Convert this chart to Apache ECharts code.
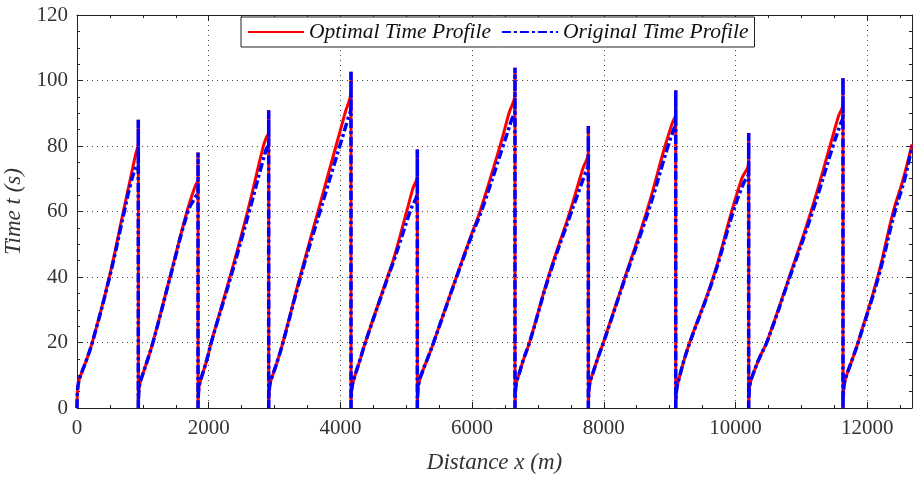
<!DOCTYPE html>
<html style="height: 100%">
<head>
    <meta charset="utf-8">
    <title>Time Profile</title>
</head>
<body style="height: 100%; margin: 0;">
<div id="container" style="width: 913px; height: 477px"></div>
<script src="https://cdn.jsdelivr.net/npm/echarts@6/dist/echarts.min.js"></script>
<script type="text/javascript">

    // station positions (m) and top of the dwell spike (s) at each intermediate station
    var stations = [0, 931, 1838, 2911, 4161, 5168, 6651, 7765, 9092, 10200, 11632, 12680];
    var dwellTop = [88, 78, 90.9, 102.7, 78.9, 103.9, 86.1, 97, 84, 100.8];

    var xTicks = [0, 2000, 4000, 6000, 8000, 10000, 12000];
    var yTicks = [0, 20, 40, 60, 80, 100, 120];

    // optimal profile, one run per inter-station section: [distance, time]
    var optimalRuns = [
        [[0, 0], [6, 4.5], [25, 8], [71, 10.8], [150, 15], [238, 20.5], [491, 40], [704, 60], [800, 69], [891, 77.5], [931, 81]],
        [[931, 0], [936, 4], [950, 7], [990, 9.8], [1060, 14], [1159, 20.5], [1412, 40], [1670, 60], [1790, 67.5], [1838, 70]],
        [[1838, 0], [1843, 4], [1858, 7], [1900, 10], [1969, 14.5], [2045, 20.5], [2323, 40], [2590, 60], [2830, 80], [2880, 82.8], [2911, 84]],
        [[2911, 0], [2916, 4], [2932, 7.5], [2980, 10.5], [3057, 15.2], [3133, 20.5], [3386, 40], [3660, 60], [3933, 80], [4070, 90], [4161, 97]],
        [[4161, 0], [4166, 4], [4181, 7], [4230, 10.5], [4298, 14.7], [4374, 19.8], [4715, 40], [4804, 45.2], [5006, 60], [5100, 67], [5168, 71]],
        [[5168, 0], [5173, 4], [5190, 7.5], [5240, 10.8], [5335, 15.7], [5411, 19.8], [5760, 40], [6000, 53.5], [6120, 60], [6424, 80], [6560, 90], [6651, 96]],
        [[6651, 0], [6656, 4], [6670, 7.5], [6715, 10.5], [6778, 14.7], [6879, 20.5], [7157, 40], [7487, 60], [7680, 73], [7765, 78]],
        [[7765, 0], [7770, 4], [7786, 7.5], [7840, 11], [7917, 15.7], [7993, 20], [8322, 40], [8652, 60], [8930, 80], [9040, 87], [9092, 90]],
        [[9092, 0], [9097, 3.5], [9112, 6.5], [9150, 9.5], [9208, 13.9], [9309, 20.3], [9663, 40], [9942, 60], [10094, 70], [10200, 75]],
        [[10200, 0], [10205, 4], [10222, 7.5], [10275, 10.8], [10372, 15.7], [10473, 20], [10817, 40], [11147, 60], [11435, 80], [11562, 89], [11632, 93]],
        [[11632, 0], [11637, 4], [11653, 7.5], [11700, 10.8], [11789, 15.7], [11865, 20.3], [12159, 40], [12396, 60], [12548, 70], [12680, 80.5]]
    ];

    // original profile
    var originalRuns = [
        [[0, 0], [6, 4.5], [25, 8], [71, 10.8], [150, 15], [240, 20.5], [495, 40], [718, 60], [815, 68.5], [900, 74], [931, 75]],
        [[931, 0], [936, 4], [950, 7], [990, 9.8], [1060, 14], [1160, 20.5], [1416, 40], [1685, 60], [1800, 64.5], [1838, 66]],
        [[1838, 0], [1843, 4], [1858, 7], [1900, 10], [1969, 14.5], [2046, 20.5], [2335, 40], [2615, 60], [2865, 78.5], [2911, 81]],
        [[2911, 0], [2916, 4], [2932, 7.5], [2980, 10.5], [3057, 15.2], [3135, 20.5], [3395, 40], [3690, 60], [3990, 80], [4110, 88], [4161, 92]],
        [[4161, 0], [4166, 4], [4181, 7], [4230, 10.5], [4298, 14.7], [4375, 19.8], [4722, 40], [4815, 45.2], [5057, 60], [5168, 66.5]],
        [[5168, 0], [5173, 4], [5190, 7.5], [5240, 10.8], [5335, 15.7], [5412, 19.8], [5765, 40], [6010, 53.5], [6140, 60], [6470, 80], [6600, 88], [6651, 91]],
        [[6651, 0], [6656, 4], [6670, 7.5], [6715, 10.5], [6778, 14.7], [6880, 20.5], [7165, 40], [7510, 60], [7705, 71], [7765, 75]],
        [[7765, 0], [7770, 4], [7786, 7.5], [7840, 11], [7917, 15.7], [7995, 20], [8330, 40], [8675, 60], [8975, 80], [9060, 85], [9092, 87]],
        [[9092, 0], [9097, 3.5], [9112, 6.5], [9150, 9.5], [9208, 13.9], [9312, 20.3], [9670, 40], [9965, 60], [10120, 68.5], [10200, 72]],
        [[10200, 0], [10205, 4], [10222, 7.5], [10275, 10.8], [10372, 15.7], [10475, 20], [10825, 40], [11170, 60], [11480, 80], [11590, 86.5], [11632, 89]],
        [[11632, 0], [11637, 4], [11653, 7.5], [11700, 10.8], [11789, 15.7], [11867, 20.3], [12170, 40], [12420, 60], [12570, 70], [12680, 80]]
    ];

    function buildProfile(runs) {
        var pts = [];
        for (var i = 0; i < runs.length; i++) {
            pts = pts.concat(runs[i]);
            if (i < dwellTop.length) {
                pts.push([stations[i + 1], dwellTop[i]]);
                pts.push([stations[i + 1], 0]);
            }
        }
        return pts;
    }

    var serif = "'Liberation Serif', 'DejaVu Serif', serif";

    var dom = document.getElementById("container");
    var myChart = echarts.init(dom);

    function boxAxis(type, pos, show, tickList, max) {
        return {
            type: 'value',
            position: pos,
            min: 0,
            max: max,
            interval: tickList[1] - tickList[0],
            axisLine: {show: true, onZero: false, lineStyle: {color: '#222', width: 1}},
            axisTick: {show: true, inside: true, length: 6, lineStyle: {color: '#222'}},
            minorTick: {show: true, splitNumber: 4, length: 3, lineStyle: {color: '#222'}},
            splitLine: {show: show, lineStyle: {color: '#444', type: [1, 4], width: 1}},
            axisLabel: {
                show: show,
                showMaxLabel: type === 'y',
                fontFamily: serif,
                fontSize: 21,
                color: '#333',
                margin: type === 'x' ? 10 : 9,
                formatter: function (v) {
                    return tickList.indexOf(v) >= 0 ? String(v) : '';
                }
            }
        };
    }

    var xBottom = boxAxis('x', 'bottom', true, xTicks, stations[stations.length - 1]);
    xBottom.name = 'Distance x (m)';
    xBottom.nameLocation = 'middle';
    xBottom.nameGap = 43;
    xBottom.nameTextStyle = {fontFamily: serif, fontStyle: 'italic', fontSize: 23, color: '#333'};
    var xTop = boxAxis('x', 'top', false, xTicks, stations[stations.length - 1]);

    var yLeft = boxAxis('y', 'left', true, yTicks, 120);
    yLeft.name = 'Time t (s)';
    yLeft.nameLocation = 'middle';
    yLeft.nameGap = 46;
    yLeft.nameTextStyle = {fontFamily: serif, fontStyle: 'italic', fontSize: 23, color: '#333'};
    var yRight = boxAxis('y', 'right', false, yTicks, 120);

    var option = {
        animation: false,
        backgroundColor: '#fff',
        grid: {left: 77, right: 1, top: 15, bottom: 69, outerBoundsMode: 'none', containLabel: false},
        legend: {
            left: 241,
            top: 17,
            padding: [4, 6, 4, 6],
            itemGap: 10,
            itemWidth: 56,
            itemHeight: 12,
            backgroundColor: '#fff',
            borderColor: '#222',
            borderWidth: 1,
            itemStyle: {opacity: 0},
            textStyle: {fontFamily: serif, fontStyle: 'italic', fontSize: 21.5, color: '#111'},
            data: ['Optimal Time Profile', 'Original Time Profile']
        },
        xAxis: [xBottom, xTop],
        yAxis: [yLeft, yRight],
        series: [
            {
                name: 'Optimal Time Profile',
                type: 'line',
                symbol: 'none',
                smooth: 0.45,
                xAxisIndex: 0,
                yAxisIndex: 0,
                lineStyle: {color: '#ff0000', width: 3},
                itemStyle: {color: '#ff0000'},
                emphasis: {disabled: true},
                data: buildProfile(optimalRuns)
            },
            {
                name: 'Original Time Profile',
                type: 'line',
                symbol: 'none',
                smooth: 0.45,
                xAxisIndex: 0,
                yAxisIndex: 0,
                lineStyle: {color: '#0000ff', width: 3.5, type: [9, 3, 3, 3]},
                itemStyle: {color: '#0000ff'},
                emphasis: {disabled: true},
                data: buildProfile(originalRuns)
            }
        ]
    };
    myChart.setOption(option, true);

</script>
</body>
</html>
